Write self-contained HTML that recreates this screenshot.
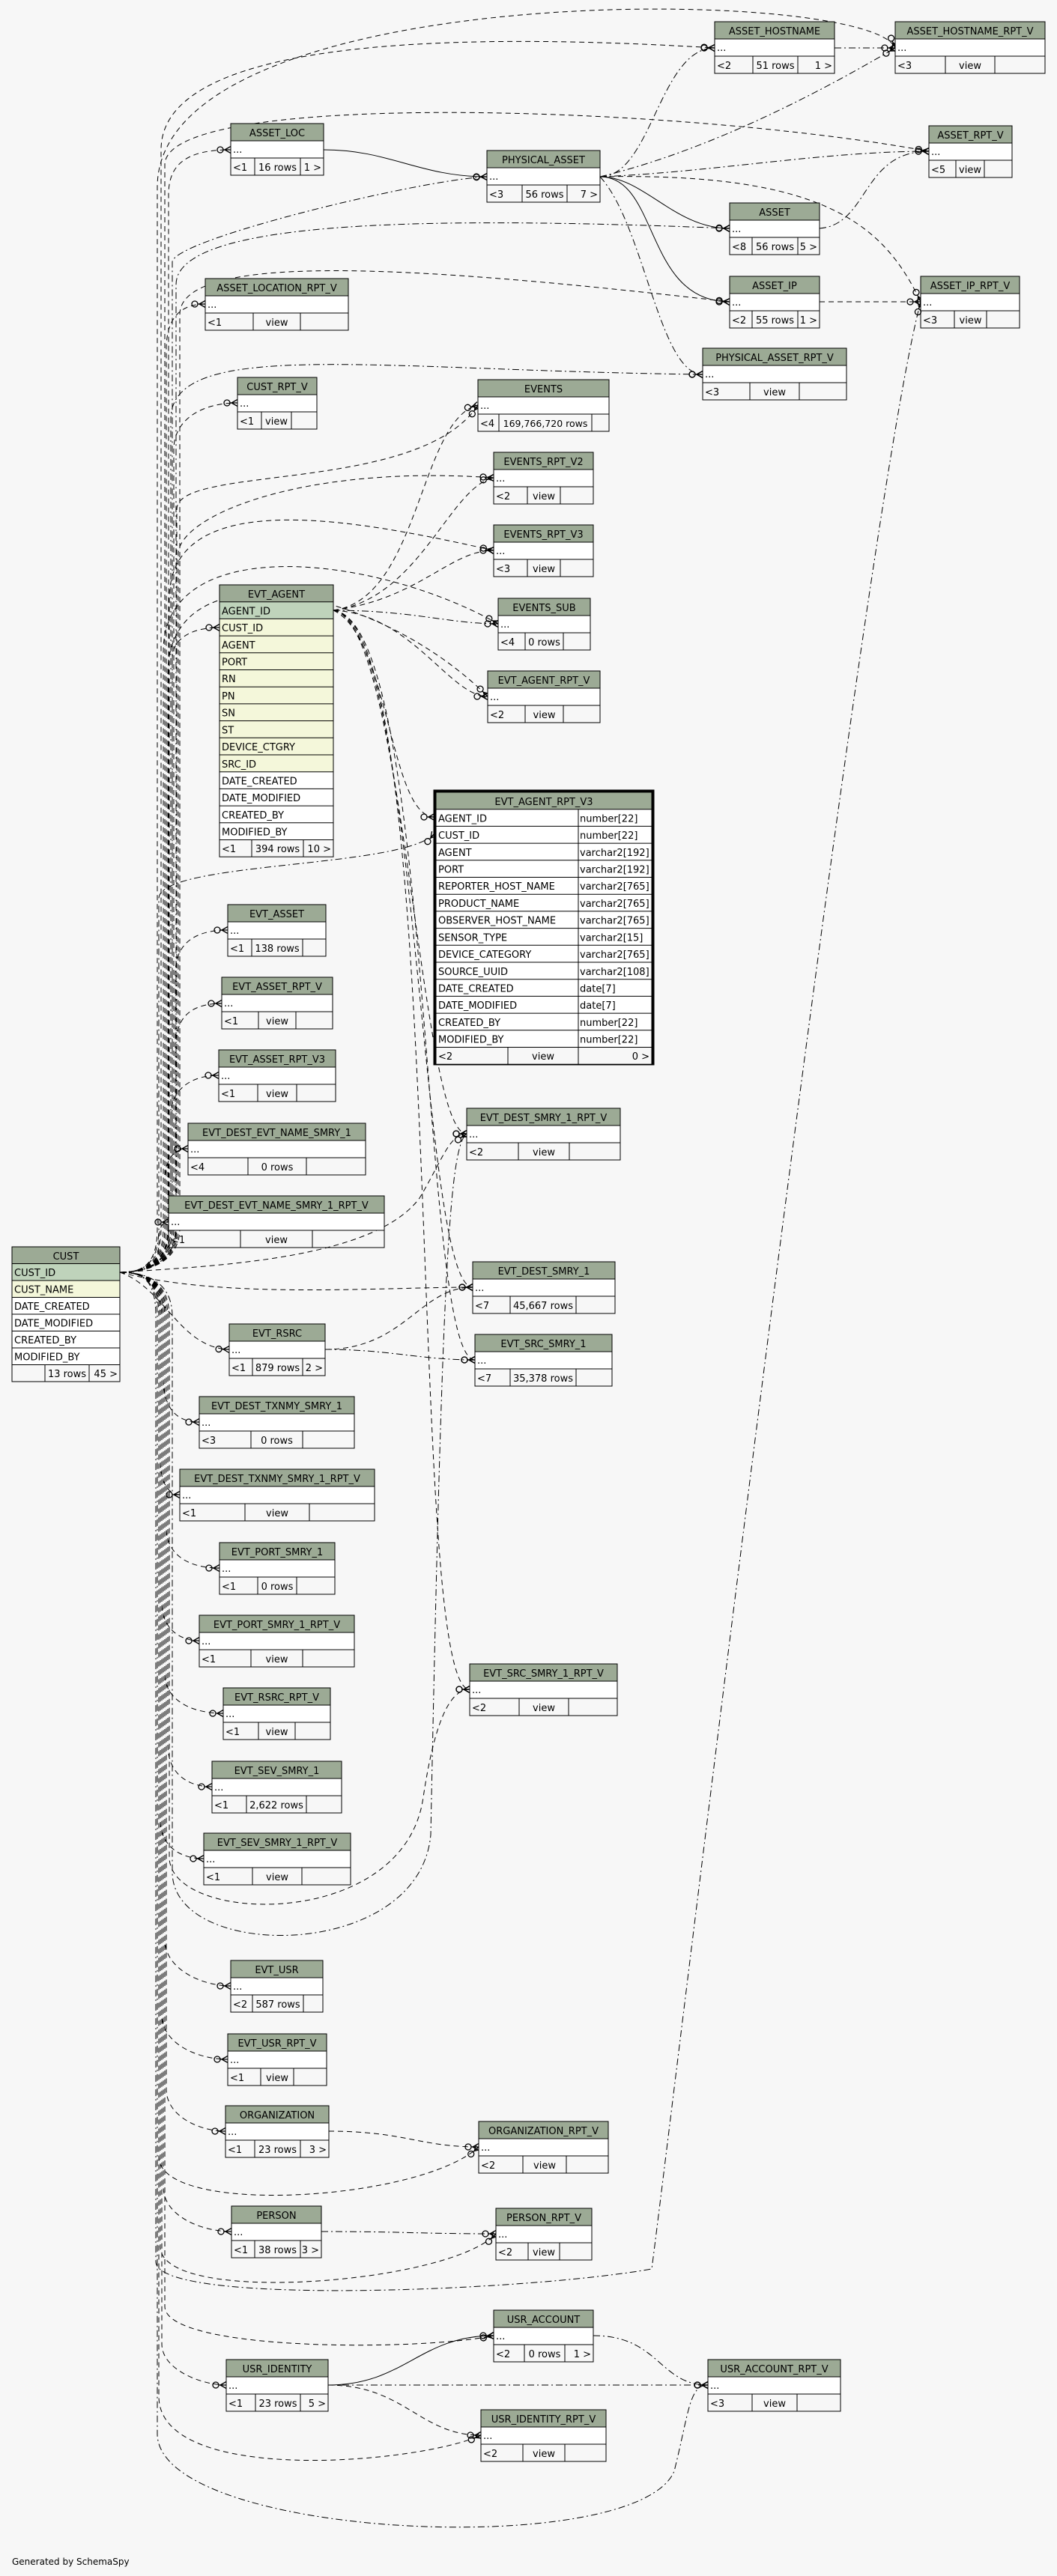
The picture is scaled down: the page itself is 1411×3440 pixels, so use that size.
<!DOCTYPE html>
<html><head><meta charset="utf-8">
<style>
html,body{margin:0;padding:0;background:#f7f7f7;}
svg{display:block;}
text{font-family:"DejaVu Sans","Liberation Sans",sans-serif;font-size:13px;fill:#000;}
.c{text-anchor:middle;}
.r{text-anchor:end;}
.h{fill:#9caa95;}
.w{fill:#fff;}
.pk{fill:#bfd3bb;}
.y{fill:#f4f7da;}
.b{fill:none;stroke:#000;stroke-width:1;}
.l{fill:none;stroke:#000;stroke-width:1;}
.d{fill:none;stroke:#000;stroke-width:1;stroke-dasharray:7,5;}
.dd{fill:none;stroke:#000;stroke-width:1;stroke-dasharray:9,4,2,4;}
.s{fill:none;stroke:#000;stroke-width:1;}
</style></head>
<body>
<svg width="1411" height="3440" viewBox="0 0 1411 3440" xmlns="http://www.w3.org/2000/svg">
<defs>
<marker id="m" markerWidth="22" markerHeight="12" refX="20" refY="6" orient="auto" markerUnits="userSpaceOnUse">
<circle cx="6" cy="6" r="4" fill="none" stroke="#000" stroke-width="1.3"/>
<path d="M10,6 L20,6 M12,6 L20,1.5 M12,6 L20,10.5" stroke="#000" stroke-width="1.3" fill="none"/>
</marker>
</defs>

<g marker-end="url(#m)">
<path class="d" d="M160,1699 C190,1699 225,1690 225,1640 L225,260 C225,220 248,200 308,200"/>
<path class="dd" d="M160,1699 C190,1699 230,1690 230,1640 L230,350 C230,320 560,240 650,236"/>
<path class="d" d="M160,1699 C190,1699 215,1690 215,1640 L215,200 C215,60 560,40 954,64"/>
<path class="d" d="M160,1699 C190,1699 210,1690 210,1640 L210,250 C210,-30 1160,-20 1195,64"/>
<path class="d" d="M160,1699 C190,1699 220,1690 220,1640 L220,220 C220,120 900,140 1240,202"/>
<path class="dd" d="M160,1699 C190,1699 235,1690 235,1640 L235,380 C235,290 600,290 974,305"/>
<path class="d" d="M160,1699 C190,1699 240,1690 240,1640 L240,420 C240,330 600,360 974,403"/>
<path class="d" d="M160,1699 C190,1699 222,1690 222,1640 L222,466 C222,426 240,406 274,406"/>
<path class="dd" d="M160,1699 C190,1699 228,1690 228,1640 L228,560 C228,450 500,495 938,500"/>
<path class="d" d="M160,1699 C190,1699 232,1690 232,1640 L232,600 C232,560 270,538 317,538"/>
<path class="d" d="M160,1699 C190,1699 236,1690 236,1640 L236,680 C236,620 560,660 638,541"/>
<path class="d" d="M160,1699 C190,1699 238,1690 238,1640 L238,740 C238,690 400,620 659,638"/>
<path class="d" d="M160,1699 C190,1699 226,1690 226,1640 L226,800 C226,640 500,700 659,735"/>
<path class="d" d="M160,1699 C190,1699 218,1690 218,1640 L218,870 C218,710 500,740 665,833"/>
<path class="d" d="M160,1699 C190,1699 224,1690 224,1640 L224,900 C224,730 500,780 651,930"/>
<path class="d" d="M160,1699 C190,1699 230,1690 230,1640 L230,880 C230,850 260,838 293,838"/>
<path class="dd" d="M160,1699 C190,1699 212,1690 212,1640 L212,1200 C212,1150 540,1160 580,1113"/>
<path class="d" d="M160,1699 C190,1699 234,1690 234,1640 L234,1300 C234,1260 260,1242 304,1242"/>
<path class="d" d="M160,1699 C190,1699 236,1690 236,1640 L236,1390 C236,1355 260,1340 296,1340"/>
<path class="d" d="M160,1699 C190,1699 228,1690 228,1640 L228,1490 C228,1455 255,1436 292,1436"/>
<path class="d" d="M160,1699 C190,1699 220,1690 220,1640 L220,1580 C220,1550 230,1534 251,1534"/>
<path class="d" d="M160,1699 C190,1699 212,1690 212,1665 C212,1640 215,1632 225,1632"/>
<path class="d" d="M160,1699 C300,1690 500,1680 560,1600 C590,1550 600,1514 623,1514"/>
<path class="d" d="M160,1699 C300,1735 500,1719 631,1719"/>
<path class="d" d="M160,1699 C220,1720 240,1800 306,1802"/>
<path class="d" d="M160,1699 C190,1699 218,1708 218,1758 L218,1840 C218,1880 235,1899 266,1899"/>
<path class="d" d="M160,1699 C190,1699 214,1708 214,1758 L214,1950 C214,1980 225,1996 240,1996"/>
<path class="d" d="M160,1699 C190,1699 222,1708 222,1758 L222,2040 C222,2075 250,2094 293,2094"/>
<path class="d" d="M160,1699 C190,1699 216,1708 216,1758 L216,2140 C216,2175 240,2191 266,2191"/>
<path class="d" d="M160,1699 C190,1699 220,1708 220,1758 L220,2235 C220,2270 255,2288 298,2288"/>
<path class="d" d="M160,1699 C190,1699 224,1708 224,1758 L224,2330 C224,2368 250,2386 283,2386"/>
<path class="d" d="M160,1699 C190,1699 226,1708 226,1758 L226,2480 C226,2570 540,2580 565,2400 C580,2300 600,2256 627,2256"/>
<path class="d" d="M160,1699 C190,1699 214,1708 214,1758 L214,2430 C214,2465 240,2482 272,2482"/>
<path class="dd" d="M160,1699 C190,1699 230,1708 230,1758 L230,2500 C230,2620 560,2620 575,2450 C590,1700 600,1530 623,1514"/>
<path class="d" d="M160,1699 C190,1699 220,1708 220,1758 L220,2590 C220,2630 270,2652 308,2652"/>
<path class="d" d="M160,1699 C190,1699 216,1708 216,1758 L216,2690 C216,2730 265,2750 304,2750"/>
<path class="d" d="M160,1699 C190,1699 222,1708 222,1758 L222,2790 C222,2825 265,2846 301,2846"/>
<path class="d" d="M160,1699 C190,1699 212,1708 212,1758 L212,2880 C212,2960 560,2940 639,2867"/>
<path class="d" d="M160,1699 C190,1699 218,1708 218,1758 L218,2920 C218,2960 270,2980 309,2980"/>
<path class="d" d="M160,1699 C190,1699 214,1708 214,1758 L214,3000 C214,3080 600,3050 662,2983"/>
<path class="dd" d="M160,1699 C190,1699 208,1708 208,1758 L208,3020 C208,3080 700,3060 870,3030 C900,2800 1150,700 1229,403"/>
<path class="d" d="M160,1699 C190,1699 220,1708 220,1758 L220,3080 C220,3140 560,3140 659,3119"/>
<path class="d" d="M160,1699 C190,1699 216,1708 216,1758 L216,3130 C216,3165 270,3185 302,3185"/>
<path class="d" d="M160,1699 C190,1699 212,1708 212,1758 L212,3200 C212,3320 560,3290 642,3252"/>
<path class="dd" d="M160,1699 C190,1699 210,1708 210,1758 L210,3250 C210,3390 850,3420 900,3300 C920,3220 920,3185 945,3185"/>

<path class="s" d="M432,200 C520,200 560,236 650,236"/>
<path class="s" d="M801,236 C860,236 900,305 974,305"/>
<path class="s" d="M801,236 C880,236 860,403 974,403"/>
<path class="dd" d="M801,236 C870,236 880,64 954,64"/>
<path class="dd" d="M801,236 C950,200 1100,120 1195,64"/>
<path class="dd" d="M801,236 C950,230 1100,202 1240,202"/>
<path class="d" d="M801,236 C1100,230 1180,300 1229,403"/>
<path class="dd" d="M801,236 C860,300 880,500 938,500"/>
<path class="dd" d="M1114,64 C1150,64 1160,64 1195,64"/>
<path class="dd" d="M1094,305 C1160,300 1150,202 1240,202"/>
<path class="d" d="M1094,403 C1150,403 1180,403 1229,403"/>

<path class="d" d="M445,815 C560,800 560,560 638,541"/>
<path class="d" d="M445,815 C560,800 600,650 659,638"/>
<path class="d" d="M445,815 C560,800 600,735 659,735"/>
<path class="dd" d="M445,815 C550,815 600,833 665,833"/>
<path class="d" d="M445,815 C550,820 600,930 651,930"/>
<path class="d" d="M445,815 C520,850 520,1091 580,1091"/>
<path class="d" d="M445,815 C540,830 560,1514 623,1514"/>
<path class="d" d="M445,815 C560,830 560,1719 631,1719"/>
<path class="d" d="M445,815 C580,830 560,1816 634,1816"/>
<path class="d" d="M445,815 C600,830 540,2256 627,2256"/>

<path class="d" d="M434,1802 C540,1802 560,1719 631,1719"/>
<path class="dd" d="M434,1802 C520,1802 560,1816 634,1816"/>
<path class="d" d="M439,2846 C540,2846 560,2867 639,2867"/>
<path class="dd" d="M429,2980 C540,2980 560,2983 662,2983"/>
<path class="s" d="M438,3185 C540,3185 560,3119 659,3119"/>
<path class="dd" d="M438,3185 C600,3185 800,3185 945,3185"/>
<path class="d" d="M438,3185 C540,3185 560,3252 642,3252"/>
<path class="dd" d="M792,3119 C880,3119 880,3185 945,3185"/>
</g>

<g transform="translate(954,29)"><rect width="160" height="23" class="h"/><rect y="23" width="160" height="23" class="w"/><rect width="160" height="69" class="b"/><path d="M0,23H160M0,46H160M51,46V69M111,46V69" class="l"/><text x="80" y="17" class="c">ASSET_HOSTNAME</text><text x="3" y="39">...</text><text x="3" y="63">&lt;2</text><text x="81" y="63" class="c">51 rows</text><text x="157" y="63" class="r">1 &gt;</text></g>
<g transform="translate(1195,29)"><rect width="200" height="23" class="h"/><rect y="23" width="200" height="23" class="w"/><rect width="200" height="69" class="b"/><path d="M0,23H200M0,46H200M67,46V69M133,46V69" class="l"/><text x="100" y="17" class="c">ASSET_HOSTNAME_RPT_V</text><text x="3" y="39">...</text><text x="3" y="63">&lt;3</text><text x="100" y="63" class="c">view</text></g>
<g transform="translate(308,165)"><rect width="124" height="23" class="h"/><rect y="23" width="124" height="23" class="w"/><rect width="124" height="69" class="b"/><path d="M0,23H124M0,46H124M32,46V69M93,46V69" class="l"/><text x="62" y="17" class="c">ASSET_LOC</text><text x="3" y="39">...</text><text x="3" y="63">&lt;1</text><text x="62.5" y="63" class="c">16 rows</text><text x="121" y="63" class="r">1 &gt;</text></g>
<g transform="translate(650,201)"><rect width="151" height="23" class="h"/><rect y="23" width="151" height="23" class="w"/><rect width="151" height="69" class="b"/><path d="M0,23H151M0,46H151M47,46V69M107,46V69" class="l"/><text x="75.5" y="17" class="c">PHYSICAL_ASSET</text><text x="3" y="39">...</text><text x="3" y="63">&lt;3</text><text x="77" y="63" class="c">56 rows</text><text x="148" y="63" class="r">7 &gt;</text></g>
<g transform="translate(1240,168)"><rect width="111" height="23" class="h"/><rect y="23" width="111" height="23" class="w"/><rect width="111" height="69" class="b"/><path d="M0,23H111M0,46H111M36,46V69M74,46V69" class="l"/><text x="55.5" y="17" class="c">ASSET_RPT_V</text><text x="3" y="39">...</text><text x="3" y="63">&lt;5</text><text x="55" y="63" class="c">view</text></g>
<g transform="translate(974,271)"><rect width="120" height="23" class="h"/><rect y="23" width="120" height="23" class="w"/><rect width="120" height="69" class="b"/><path d="M0,23H120M0,46H120M30,46V69M91,46V69" class="l"/><text x="60" y="17" class="c">ASSET</text><text x="3" y="39">...</text><text x="3" y="63">&lt;8</text><text x="60.5" y="63" class="c">56 rows</text><text x="117" y="63" class="r">5 &gt;</text></g>
<g transform="translate(274,372)"><rect width="191" height="23" class="h"/><rect y="23" width="191" height="23" class="w"/><rect width="191" height="69" class="b"/><path d="M0,23H191M0,46H191M64,46V69M127,46V69" class="l"/><text x="95.5" y="17" class="c">ASSET_LOCATION_RPT_V</text><text x="3" y="39">...</text><text x="3" y="63">&lt;1</text><text x="95.5" y="63" class="c">view</text></g>
<g transform="translate(974,369)"><rect width="120" height="23" class="h"/><rect y="23" width="120" height="23" class="w"/><rect width="120" height="69" class="b"/><path d="M0,23H120M0,46H120M30,46V69M91,46V69" class="l"/><text x="60" y="17" class="c">ASSET_IP</text><text x="3" y="39">...</text><text x="3" y="63">&lt;2</text><text x="60.5" y="63" class="c">55 rows</text><text x="117" y="63" class="r">1 &gt;</text></g>
<g transform="translate(1229,369)"><rect width="132" height="23" class="h"/><rect y="23" width="132" height="23" class="w"/><rect width="132" height="69" class="b"/><path d="M0,23H132M0,46H132M45,46V69M88,46V69" class="l"/><text x="66" y="17" class="c">ASSET_IP_RPT_V</text><text x="3" y="39">...</text><text x="3" y="63">&lt;3</text><text x="66.5" y="63" class="c">view</text></g>
<g transform="translate(938,465)"><rect width="192" height="23" class="h"/><rect y="23" width="192" height="23" class="w"/><rect width="192" height="69" class="b"/><path d="M0,23H192M0,46H192M63,46V69M129,46V69" class="l"/><text x="96" y="17" class="c">PHYSICAL_ASSET_RPT_V</text><text x="3" y="39">...</text><text x="3" y="63">&lt;3</text><text x="96" y="63" class="c">view</text></g>
<g transform="translate(317,504)"><rect width="106" height="23" class="h"/><rect y="23" width="106" height="23" class="w"/><rect width="106" height="69" class="b"/><path d="M0,23H106M0,46H106M32,46V69M72,46V69" class="l"/><text x="53" y="17" class="c">CUST_RPT_V</text><text x="3" y="39">...</text><text x="3" y="63">&lt;1</text><text x="52" y="63" class="c">view</text></g>
<g transform="translate(638,507)"><rect width="175" height="23" class="h"/><rect y="23" width="175" height="23" class="w"/><rect width="175" height="69" class="b"/><path d="M0,23H175M0,46H175M28,46V69M152,46V69" class="l"/><text x="87.5" y="17" class="c">EVENTS</text><text x="3" y="39">...</text><text x="3" y="63">&lt;4</text><text x="90" y="63" class="c" style="font-size:12.5px">169,766,720 rows</text></g>
<g transform="translate(659,604)"><rect width="133" height="23" class="h"/><rect y="23" width="133" height="23" class="w"/><rect width="133" height="69" class="b"/><path d="M0,23H133M0,46H133M45,46V69M89,46V69" class="l"/><text x="66.5" y="17" class="c">EVENTS_RPT_V2</text><text x="3" y="39">...</text><text x="3" y="63">&lt;2</text><text x="67" y="63" class="c">view</text></g>
<g transform="translate(659,701)"><rect width="133" height="23" class="h"/><rect y="23" width="133" height="23" class="w"/><rect width="133" height="69" class="b"/><path d="M0,23H133M0,46H133M45,46V69M89,46V69" class="l"/><text x="66.5" y="17" class="c">EVENTS_RPT_V3</text><text x="3" y="39">...</text><text x="3" y="63">&lt;3</text><text x="67" y="63" class="c">view</text></g>
<g transform="translate(665,799)"><rect width="123" height="23" class="h"/><rect y="23" width="123" height="23" class="w"/><rect width="123" height="69" class="b"/><path d="M0,23H123M0,46H123M36,46V69M87,46V69" class="l"/><text x="61.5" y="17" class="c">EVENTS_SUB</text><text x="3" y="39">...</text><text x="3" y="63">&lt;4</text><text x="61.5" y="63" class="c">0 rows</text></g>
<g transform="translate(651,896)"><rect width="150" height="23" class="h"/><rect y="23" width="150" height="23" class="w"/><rect width="150" height="69" class="b"/><path d="M0,23H150M0,46H150M50,46V69M101,46V69" class="l"/><text x="75" y="17" class="c">EVT_AGENT_RPT_V</text><text x="3" y="39">...</text><text x="3" y="63">&lt;2</text><text x="75.5" y="63" class="c">view</text></g>
<g transform="translate(304,1208)"><rect width="131" height="23" class="h"/><rect y="23" width="131" height="23" class="w"/><rect width="131" height="69" class="b"/><path d="M0,23H131M0,46H131M32,46V69M100,46V69" class="l"/><text x="65.5" y="17" class="c">EVT_ASSET</text><text x="3" y="39">...</text><text x="3" y="63">&lt;1</text><text x="66" y="63" class="c">138 rows</text></g>
<g transform="translate(296,1305)"><rect width="148" height="23" class="h"/><rect y="23" width="148" height="23" class="w"/><rect width="148" height="69" class="b"/><path d="M0,23H148M0,46H148M49,46V69M99,46V69" class="l"/><text x="74" y="17" class="c">EVT_ASSET_RPT_V</text><text x="3" y="39">...</text><text x="3" y="63">&lt;1</text><text x="74" y="63" class="c">view</text></g>
<g transform="translate(292,1402)"><rect width="156" height="23" class="h"/><rect y="23" width="156" height="23" class="w"/><rect width="156" height="69" class="b"/><path d="M0,23H156M0,46H156M52,46V69M104,46V69" class="l"/><text x="78" y="17" class="c">EVT_ASSET_RPT_V3</text><text x="3" y="39">...</text><text x="3" y="63">&lt;1</text><text x="78" y="63" class="c">view</text></g>
<g transform="translate(251,1500)"><rect width="237" height="23" class="h"/><rect y="23" width="237" height="23" class="w"/><rect width="237" height="69" class="b"/><path d="M0,23H237M0,46H237M80,46V69M158,46V69" class="l"/><text x="118.5" y="17" class="c">EVT_DEST_EVT_NAME_SMRY_1</text><text x="3" y="39">...</text><text x="3" y="63">&lt;4</text><text x="119" y="63" class="c">0 rows</text></g>
<g transform="translate(225,1597)"><rect width="288" height="23" class="h"/><rect y="23" width="288" height="23" class="w"/><rect width="288" height="69" class="b"/><path d="M0,23H288M0,46H288M96,46V69M192,46V69" class="l"/><text x="144" y="17" class="c">EVT_DEST_EVT_NAME_SMRY_1_RPT_V</text><text x="3" y="39">...</text><text x="3" y="63">&lt;1</text><text x="144" y="63" class="c">view</text></g>
<g transform="translate(623,1480)"><rect width="205" height="23" class="h"/><rect y="23" width="205" height="23" class="w"/><rect width="205" height="69" class="b"/><path d="M0,23H205M0,46H205M69,46V69M137,46V69" class="l"/><text x="102.5" y="17" class="c">EVT_DEST_SMRY_1_RPT_V</text><text x="3" y="39">...</text><text x="3" y="63">&lt;2</text><text x="103" y="63" class="c">view</text></g>
<g transform="translate(631,1685)"><rect width="190" height="23" class="h"/><rect y="23" width="190" height="23" class="w"/><rect width="190" height="69" class="b"/><path d="M0,23H190M0,46H190M50,46V69M138,46V69" class="l"/><text x="95" y="17" class="c">EVT_DEST_SMRY_1</text><text x="3" y="39">...</text><text x="3" y="63">&lt;7</text><text x="94" y="63" class="c">45,667 rows</text></g>
<g transform="translate(306,1768)"><rect width="128" height="23" class="h"/><rect y="23" width="128" height="23" class="w"/><rect width="128" height="69" class="b"/><path d="M0,23H128M0,46H128M31,46V69M98,46V69" class="l"/><text x="64" y="17" class="c">EVT_RSRC</text><text x="3" y="39">...</text><text x="3" y="63">&lt;1</text><text x="64.5" y="63" class="c">879 rows</text><text x="125" y="63" class="r">2 &gt;</text></g>
<g transform="translate(634,1782)"><rect width="183" height="23" class="h"/><rect y="23" width="183" height="23" class="w"/><rect width="183" height="69" class="b"/><path d="M0,23H183M0,46H183M47,46V69M135,46V69" class="l"/><text x="91.5" y="17" class="c">EVT_SRC_SMRY_1</text><text x="3" y="39">...</text><text x="3" y="63">&lt;7</text><text x="91" y="63" class="c">35,378 rows</text></g>
<g transform="translate(266,1865)"><rect width="207" height="23" class="h"/><rect y="23" width="207" height="23" class="w"/><rect width="207" height="69" class="b"/><path d="M0,23H207M0,46H207M69,46V69M138,46V69" class="l"/><text x="103.5" y="17" class="c">EVT_DEST_TXNMY_SMRY_1</text><text x="3" y="39">...</text><text x="3" y="63">&lt;3</text><text x="103.5" y="63" class="c">0 rows</text></g>
<g transform="translate(240,1962)"><rect width="260" height="23" class="h"/><rect y="23" width="260" height="23" class="w"/><rect width="260" height="69" class="b"/><path d="M0,23H260M0,46H260M87,46V69M173,46V69" class="l"/><text x="130" y="17" class="c">EVT_DEST_TXNMY_SMRY_1_RPT_V</text><text x="3" y="39">...</text><text x="3" y="63">&lt;1</text><text x="130" y="63" class="c">view</text></g>
<g transform="translate(293,2060)"><rect width="154" height="23" class="h"/><rect y="23" width="154" height="23" class="w"/><rect width="154" height="69" class="b"/><path d="M0,23H154M0,46H154M51,46V69M103,46V69" class="l"/><text x="77" y="17" class="c">EVT_PORT_SMRY_1</text><text x="3" y="39">...</text><text x="3" y="63">&lt;1</text><text x="77" y="63" class="c">0 rows</text></g>
<g transform="translate(266,2157)"><rect width="207" height="23" class="h"/><rect y="23" width="207" height="23" class="w"/><rect width="207" height="69" class="b"/><path d="M0,23H207M0,46H207M69,46V69M138,46V69" class="l"/><text x="103.5" y="17" class="c">EVT_PORT_SMRY_1_RPT_V</text><text x="3" y="39">...</text><text x="3" y="63">&lt;1</text><text x="103.5" y="63" class="c">view</text></g>
<g transform="translate(298,2254)"><rect width="143" height="23" class="h"/><rect y="23" width="143" height="23" class="w"/><rect width="143" height="69" class="b"/><path d="M0,23H143M0,46H143M47,46V69M96,46V69" class="l"/><text x="71.5" y="17" class="c">EVT_RSRC_RPT_V</text><text x="3" y="39">...</text><text x="3" y="63">&lt;1</text><text x="71.5" y="63" class="c">view</text></g>
<g transform="translate(283,2352)"><rect width="173" height="23" class="h"/><rect y="23" width="173" height="23" class="w"/><rect width="173" height="69" class="b"/><path d="M0,23H173M0,46H173M46,46V69M126,46V69" class="l"/><text x="86.5" y="17" class="c">EVT_SEV_SMRY_1</text><text x="3" y="39">...</text><text x="3" y="63">&lt;1</text><text x="86" y="63" class="c">2,622 rows</text></g>
<g transform="translate(627,2222)"><rect width="197" height="23" class="h"/><rect y="23" width="197" height="23" class="w"/><rect width="197" height="69" class="b"/><path d="M0,23H197M0,46H197M66,46V69M132,46V69" class="l"/><text x="98.5" y="17" class="c">EVT_SRC_SMRY_1_RPT_V</text><text x="3" y="39">...</text><text x="3" y="63">&lt;2</text><text x="99" y="63" class="c">view</text></g>
<g transform="translate(272,2448)"><rect width="196" height="23" class="h"/><rect y="23" width="196" height="23" class="w"/><rect width="196" height="69" class="b"/><path d="M0,23H196M0,46H196M65,46V69M131,46V69" class="l"/><text x="98" y="17" class="c">EVT_SEV_SMRY_1_RPT_V</text><text x="3" y="39">...</text><text x="3" y="63">&lt;1</text><text x="98" y="63" class="c">view</text></g>
<g transform="translate(308,2618)"><rect width="123" height="23" class="h"/><rect y="23" width="123" height="23" class="w"/><rect width="123" height="69" class="b"/><path d="M0,23H123M0,46H123M29,46V69M97,46V69" class="l"/><text x="61.5" y="17" class="c">EVT_USR</text><text x="3" y="39">...</text><text x="3" y="63">&lt;2</text><text x="63" y="63" class="c">587 rows</text></g>
<g transform="translate(304,2716)"><rect width="132" height="23" class="h"/><rect y="23" width="132" height="23" class="w"/><rect width="132" height="69" class="b"/><path d="M0,23H132M0,46H132M44,46V69M88,46V69" class="l"/><text x="66" y="17" class="c">EVT_USR_RPT_V</text><text x="3" y="39">...</text><text x="3" y="63">&lt;1</text><text x="66" y="63" class="c">view</text></g>
<g transform="translate(301,2812)"><rect width="138" height="23" class="h"/><rect y="23" width="138" height="23" class="w"/><rect width="138" height="69" class="b"/><path d="M0,23H138M0,46H138M39,46V69M100,46V69" class="l"/><text x="69" y="17" class="c">ORGANIZATION</text><text x="3" y="39">...</text><text x="3" y="63">&lt;1</text><text x="69.5" y="63" class="c">23 rows</text><text x="135" y="63" class="r">3 &gt;</text></g>
<g transform="translate(639,2833)"><rect width="173" height="23" class="h"/><rect y="23" width="173" height="23" class="w"/><rect width="173" height="69" class="b"/><path d="M0,23H173M0,46H173M59,46V69M117,46V69" class="l"/><text x="86.5" y="17" class="c">ORGANIZATION_RPT_V</text><text x="3" y="39">...</text><text x="3" y="63">&lt;2</text><text x="88" y="63" class="c">view</text></g>
<g transform="translate(309,2946)"><rect width="120" height="23" class="h"/><rect y="23" width="120" height="23" class="w"/><rect width="120" height="69" class="b"/><path d="M0,23H120M0,46H120M31,46V69M92,46V69" class="l"/><text x="60" y="17" class="c">PERSON</text><text x="3" y="39">...</text><text x="3" y="63">&lt;1</text><text x="61.5" y="63" class="c">38 rows</text><text x="117" y="63" class="r">3 &gt;</text></g>
<g transform="translate(662,2949)"><rect width="128" height="23" class="h"/><rect y="23" width="128" height="23" class="w"/><rect width="128" height="69" class="b"/><path d="M0,23H128M0,46H128M43,46V69M85,46V69" class="l"/><text x="64" y="17" class="c">PERSON_RPT_V</text><text x="3" y="39">...</text><text x="3" y="63">&lt;2</text><text x="64" y="63" class="c">view</text></g>
<g transform="translate(659,3085)"><rect width="133" height="23" class="h"/><rect y="23" width="133" height="23" class="w"/><rect width="133" height="69" class="b"/><path d="M0,23H133M0,46H133M41,46V69M95,46V69" class="l"/><text x="66.5" y="17" class="c">USR_ACCOUNT</text><text x="3" y="39">...</text><text x="3" y="63">&lt;2</text><text x="68" y="63" class="c">0 rows</text><text x="130" y="63" class="r">1 &gt;</text></g>
<g transform="translate(302,3151)"><rect width="136" height="23" class="h"/><rect y="23" width="136" height="23" class="w"/><rect width="136" height="69" class="b"/><path d="M0,23H136M0,46H136M39,46V69M99,46V69" class="l"/><text x="68" y="17" class="c">USR_IDENTITY</text><text x="3" y="39">...</text><text x="3" y="63">&lt;1</text><text x="69" y="63" class="c">23 rows</text><text x="133" y="63" class="r">5 &gt;</text></g>
<g transform="translate(945,3151)"><rect width="177" height="23" class="h"/><rect y="23" width="177" height="23" class="w"/><rect width="177" height="69" class="b"/><path d="M0,23H177M0,46H177M59,46V69M119,46V69" class="l"/><text x="88.5" y="17" class="c">USR_ACCOUNT_RPT_V</text><text x="3" y="39">...</text><text x="3" y="63">&lt;3</text><text x="89" y="63" class="c">view</text></g>
<g transform="translate(642,3218)"><rect width="167" height="23" class="h"/><rect y="23" width="167" height="23" class="w"/><rect width="167" height="69" class="b"/><path d="M0,23H167M0,46H167M56,46V69M112,46V69" class="l"/><text x="83.5" y="17" class="c">USR_IDENTITY_RPT_V</text><text x="3" y="39">...</text><text x="3" y="63">&lt;2</text><text x="84" y="63" class="c">view</text></g>

<g transform="translate(293,781)">
<rect width="152" height="22.7" class="h"/>
<rect y="22.7" width="152" height="22.7" class="pk"/>
<rect y="45.4" width="152" height="204.3" class="y"/>
<rect y="249.7" width="152" height="90.8" class="w"/>
<rect width="152" height="363.2" class="b"/>
<path class="l" d="M0,22.7H152M0,45.4H152M0,68.1H152M0,90.8H152M0,113.5H152M0,136.2H152M0,158.9H152M0,181.6H152M0,204.3H152M0,227H152M0,249.7H152M0,272.4H152M0,295.1H152M0,317.8H152M0,340.5H152M43,340.5V363.2M112,340.5V363.2"/>
<text x="76" y="17" class="c">EVT_AGENT</text>
<text x="3" y="39.5">AGENT_ID</text>
<text x="3" y="62">CUST_ID</text>
<text x="3" y="85">AGENT</text>
<text x="3" y="107.5">PORT</text>
<text x="3" y="130">RN</text>
<text x="3" y="153">PN</text>
<text x="3" y="175.5">SN</text>
<text x="3" y="198.5">ST</text>
<text x="3" y="221">DEVICE_CTGRY</text>
<text x="3" y="244">SRC_ID</text>
<text x="3" y="266.5">DATE_CREATED</text>
<text x="3" y="289">DATE_MODIFIED</text>
<text x="3" y="312">CREATED_BY</text>
<text x="3" y="334.5">MODIFIED_BY</text>
<text x="3" y="357">&lt;1</text>
<text x="77.5" y="357" class="c">394 rows</text>
<text x="149" y="357" class="r">10 &gt;</text>
</g>

<g transform="translate(16,1665)">
<rect width="144" height="22.5" class="h"/>
<rect y="22.5" width="144" height="22.5" class="pk"/>
<rect y="45" width="144" height="22.5" class="y"/>
<rect y="67.5" width="144" height="90" class="w"/>
<rect width="144" height="180" class="b"/>
<path class="l" d="M0,22.5H144M0,45H144M0,67.5H144M0,90H144M0,112.5H144M0,135H144M0,157.5H144M44,157.5V180M103,157.5V180"/>
<text x="72" y="17" class="c">CUST</text>
<text x="3" y="39">CUST_ID</text>
<text x="3" y="61.5">CUST_NAME</text>
<text x="3" y="84">DATE_CREATED</text>
<text x="3" y="106.5">DATE_MODIFIED</text>
<text x="3" y="129">CREATED_BY</text>
<text x="3" y="151.5">MODIFIED_BY</text>
<text x="73.5" y="174" class="c">13 rows</text>
<text x="141" y="174" class="r">45 &gt;</text>
</g>

<rect x="580" y="1056" width="292" height="365" fill="#fff" stroke="#000" stroke-width="3"/>
<g transform="translate(582,1058)">
<rect width="288" height="22.7" class="h"/>
<rect y="340.5" width="288" height="22.7" fill="#f7f7f7"/>
<rect width="288" height="363.2" class="b"/>
<path class="l" d="M0,22.7H288M0,45.4H288M0,68.1H288M0,90.8H288M0,113.5H288M0,136.2H288M0,158.9H288M0,181.6H288M0,204.3H288M0,227H288M0,249.7H288M0,272.4H288M0,295.1H288M0,317.8H288M0,340.5H288M190,22.7V340.5M96,340.5V363.2M190,340.5V363.2"/>
<text x="144" y="17" class="c">EVT_AGENT_RPT_V3</text>
<g>
<text x="3" y="39.5">AGENT_ID</text><text x="192" y="39.5">number[22]</text>
<text x="3" y="62">CUST_ID</text><text x="192" y="62">number[22]</text>
<text x="3" y="85">AGENT</text><text x="192" y="85">varchar2[192]</text>
<text x="3" y="107.5">PORT</text><text x="192" y="107.5">varchar2[192]</text>
<text x="3" y="130">REPORTER_HOST_NAME</text><text x="192" y="130">varchar2[765]</text>
<text x="3" y="153">PRODUCT_NAME</text><text x="192" y="153">varchar2[765]</text>
<text x="3" y="175.5">OBSERVER_HOST_NAME</text><text x="192" y="175.5">varchar2[765]</text>
<text x="3" y="198.5">SENSOR_TYPE</text><text x="192" y="198.5">varchar2[15]</text>
<text x="3" y="221">DEVICE_CATEGORY</text><text x="192" y="221">varchar2[765]</text>
<text x="3" y="244">SOURCE_UUID</text><text x="192" y="244">varchar2[108]</text>
<text x="3" y="266.5">DATE_CREATED</text><text x="192" y="266.5">date[7]</text>
<text x="3" y="289">DATE_MODIFIED</text><text x="192" y="289">date[7]</text>
<text x="3" y="312">CREATED_BY</text><text x="192" y="312">number[22]</text>
<text x="3" y="334.5">MODIFIED_BY</text><text x="192" y="334.5">number[22]</text>
</g>
<text x="3" y="357">&lt;2</text>
<text x="143" y="357" class="c">view</text>
<text x="285" y="357" class="r">0 &gt;</text>
</g>

<text x="16" y="3425" style="font-size:12px">Generated by SchemaSpy</text>
</svg>
</body></html>
